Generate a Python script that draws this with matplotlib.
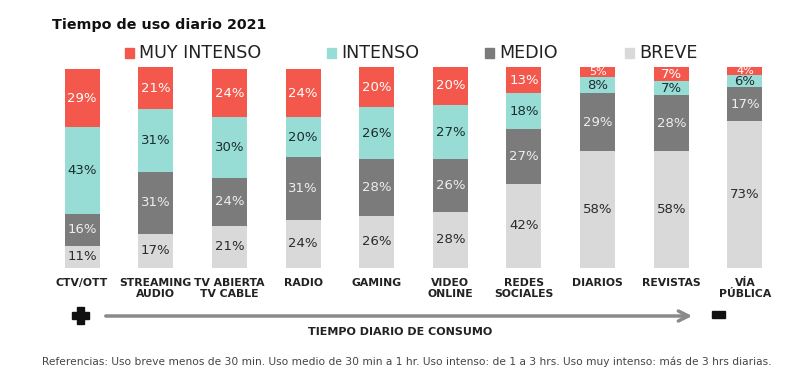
import matplotlib.pyplot as plt
from matplotlib.patches import Rectangle, FancyArrowPatch
import numpy as np

# Categories, ordered from most to least daily time
categories = ["CTV/OTT", "STREAMING\nAUDIO", "TV ABIERTA\nTV CABLE", "RADIO", "GAMING",
              "VIDEO\nONLINE", "REDES\nSOCIALES", "DIARIOS", "REVISTAS", "VÍA\nPÚBLICA"]

breve = [11, 17, 21, 24, 26, 28, 42, 58, 58, 73]
medio = [16, 31, 24, 31, 28, 26, 27, 29, 28, 17]
intenso = [43, 31, 30, 20, 26, 27, 18, 8, 7, 6]
muy_intenso = [29, 21, 24, 24, 20, 20, 13, 5, 7, 4]

series = [
    ("BREVE", breve, "#d9d9d9", "#2b2b2b"),
    ("MEDIO", medio, "#7b7b7b", "#eeeeee"),
    ("INTENSO", intenso, "#98dcd6", "#1c2e2e"),
    ("MUY INTENSO", muy_intenso, "#f4574b", "#ffffff"),
]

W, H = 800, 375
fig = plt.figure(figsize=(8, 3.75), dpi=100)

# axes: x from -0.5..9.5 -> px 45..782, y 0..100 -> px 268..67
ax = fig.add_axes([45.2 / W, (H - 268) / H, (781.8 - 45.2) / W, 201 / H])
x = np.arange(len(categories))
bottom = np.zeros(len(categories))
for name, vals, color, tcolor in series:
    vals = np.array(vals)
    ax.bar(x, vals, width=0.475, bottom=bottom, color=color, edgecolor="none")
    for xi, b, v in zip(x, bottom, vals):
        ax.text(xi, b + v / 2, f"{v}%", ha="center", va="center",
                fontsize=9.5 if v >= 6 else 8, color=tcolor)
    bottom += vals

ax.set_xlim(-0.5, 9.5)
ax.set_ylim(0, 100)
ax.axis("off")

for xi, lab in zip(x, categories):
    ax.text(xi, -5, lab, ha="center", va="top", fontsize=7.8, fontweight="bold",
            color="#222222", linespacing=1.15)

# title
fig.text(52 / W, 1 - 25 / H, "Tiempo de uso diario 2021", fontsize=10.3,
         fontweight="bold", va="center", color="#111111")

# legend
legend_items = [("MUY INTENSO", "#f4574b", 125), ("INTENSO", "#98dcd6", 327),
                ("MEDIO", "#7b7b7b", 485), ("BREVE", "#d9d9d9", 625)]
for name, color, px in legend_items:
    fig.add_artist(Rectangle((px / W, 1 - 58 / H), 9 / W, 10 / H,
                             transform=fig.transFigure, color=color))
    fig.text((px + 14) / W, 1 - 53 / H, name, fontsize=12.6, va="center",
             color="#222222")

# arrow
arrow = FancyArrowPatch((103 / W, 1 - 316 / H), (695 / W, 1 - 316 / H),
                        transform=fig.transFigure, arrowstyle="->",
                        mutation_scale=18, lw=2.5, color="#8a8a8a")
fig.add_artist(arrow)
# bold plus sign drawn as two bars
fig.add_artist(Rectangle((72 / W, 1 - 319 / H), 17 / W, 7 / H,
                         transform=fig.transFigure, color="#111111"))
fig.add_artist(Rectangle((77 / W, 1 - 324 / H), 7 / W, 17 / H,
                         transform=fig.transFigure, color="#111111"))
# minus sign
fig.add_artist(Rectangle((712 / W, 1 - 318 / H), 13 / W, 7 / H,
                         transform=fig.transFigure, color="#111111"))
fig.text(400 / W, 1 - 332 / H, "TIEMPO DIARIO DE CONSUMO", fontsize=8,
         fontweight="bold", ha="center", va="center", color="#222222")

fig.text(407 / W, 1 - 362 / H,
         "Referencias: Uso breve menos de 30 min. Uso medio de 30 min a 1 hr. "
         "Uso intenso: de 1 a 3 hrs. Uso muy intenso: más de 3 hrs diarias.",
         fontsize=7.7, ha="center", va="center", color="#444444")

fig.savefig("out.png", dpi=100)
